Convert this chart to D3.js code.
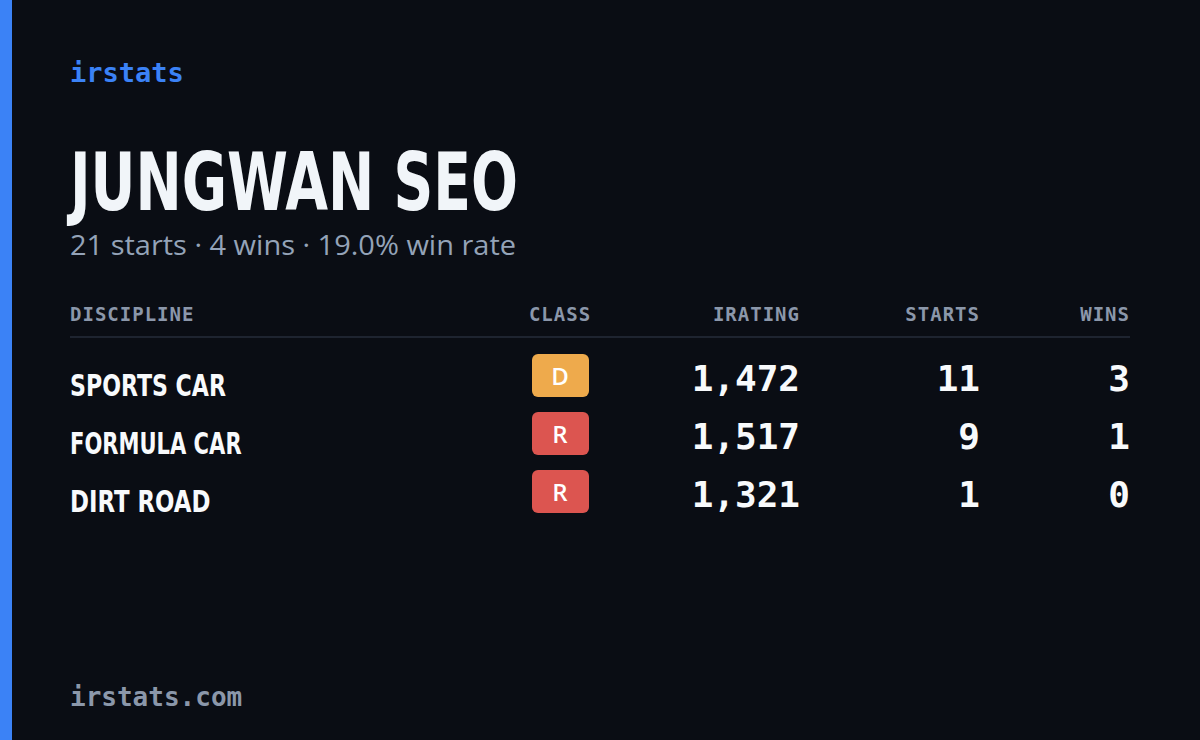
<!DOCTYPE html>
<html><head><meta charset="utf-8">
<script src="https://cdn.jsdelivr.net/npm/d3@7"></script>
<style>body{margin:0;background:#0a0d14}</style>
</head><body>
<script>
var disciplines = ['SPORTS CAR', 'FORMULA CAR', 'DIRT ROAD'],
	classes = ['D', 'R', 'R'],
	iratings = [1472, 1517, 1321],
	starts = [11, 9, 1],
	wins = [3, 1, 0],
	headers = ['DISCIPLINE', 'CLASS', 'IRATING', 'STARTS', 'WINS'];

var classColor = { D: '#eeaa4c', R: '#dc5550' },
	mono = '"DejaVu Sans Mono", "Liberation Mono", monospace',
	cond = '"DejaVu Sans Condensed", "Liberation Sans Narrow", sans-serif';

var svg = d3.select('body').append('svg').attr('width', 1200).attr('height', 740);
svg.append('rect').attr('width', 1200).attr('height', 740).attr('fill', '#0a0d14');
svg.append('rect').attr('width', 12).attr('height', 740).attr('fill', '#3b82f6');

svg.append('text').attr('x', 70).attr('y', 82).text('irstats')
	.attr('font-family', mono).attr('font-weight', 600).attr('font-size', 27).attr('fill', '#3b82f6');
svg.append('text').attr('x', 70).attr('y', 210).text('JUNGWAN SEO')
	.attr('font-family', cond).attr('font-weight', 'bold').attr('font-size', 80)
	.attr('fill', '#f1f5f9').attr('textLength', 448).attr('lengthAdjust', 'spacingAndGlyphs');
svg.append('text').attr('x', 70).attr('y', 255)
	.text('21 starts \u00b7 4 wins \u00b7 19.0% win rate')
	.attr('font-family', '"Open Sans", sans-serif').attr('font-size', 27).attr('fill', '#94a3b8')
	.attr('textLength', 446).attr('lengthAdjust', 'spacingAndGlyphs');

// columns: x position and anchor
var colX = [70, 560, 800, 980, 1130],
	colAnchor = ['start', 'middle', 'end', 'end', 'end'];

svg.selectAll('text.hdr').data(headers).enter().append('text')
	.attr('x', function(d, i) { return colX[i]; }).attr('y', 321)
	.attr('text-anchor', function(d, i) { return colAnchor[i]; })
	.attr('font-family', mono).attr('font-weight', 600).attr('font-size', 19).attr('letter-spacing', 1)
	.attr('fill', '#8b97aa').text(function(d) { return d; });
svg.append('line').attr('x1', 70).attr('x2', 1130).attr('y1', 337).attr('y2', 337)
	.attr('stroke', '#1e2430').attr('stroke-width', 2);

var y = d3.scaleBand().domain(d3.range(disciplines.length)).range([347, 521]);
var fmt = d3.format(',');

var rows = svg.selectAll('g.row').data(disciplines).enter().append('g')
	.attr('transform', function(d, i) { return 'translate(0,' + y(i) + ')'; });

rows.append('text').attr('x', 70).attr('y', 49).text(function(d) { return d; })
	.attr('font-family', cond).attr('font-weight', 'bold').attr('font-size', 31)
	.attr('fill', '#f8fafc')
	.attr('textLength', function(d) { return d.length * 15.6; }).attr('lengthAdjust', 'spacingAndGlyphs');

rows.append('rect').attr('x', 532).attr('y', 7).attr('width', 57).attr('height', 43).attr('rx', 6)
	.attr('fill', function(d, i) { return classColor[classes[i]]; });
rows.append('text').attr('x', 560).attr('y', 38).attr('text-anchor', 'middle')
	.attr('font-family', '"Open Sans", sans-serif').attr('font-weight', 600).attr('font-size', 24)
	.attr('fill', '#fff').text(function(d, i) { return classes[i]; });

var nums = [iratings.map(fmt), starts, wins];
nums.forEach(function(arr, c) {
	rows.append('text').attr('x', colX[c + 2]).attr('y', 44).attr('text-anchor', 'end')
		.attr('font-family', mono).attr('font-weight', 600).attr('font-size', 36)
		.attr('fill', '#f8fafc').text(function(d, i) { return arr[i]; });
});

svg.append('text').attr('x', 70).attr('y', 706).text('irstats.com')
	.attr('font-family', mono).attr('font-weight', 600).attr('font-size', 26).attr('fill', '#8b97aa');
</script>
</body></html>
